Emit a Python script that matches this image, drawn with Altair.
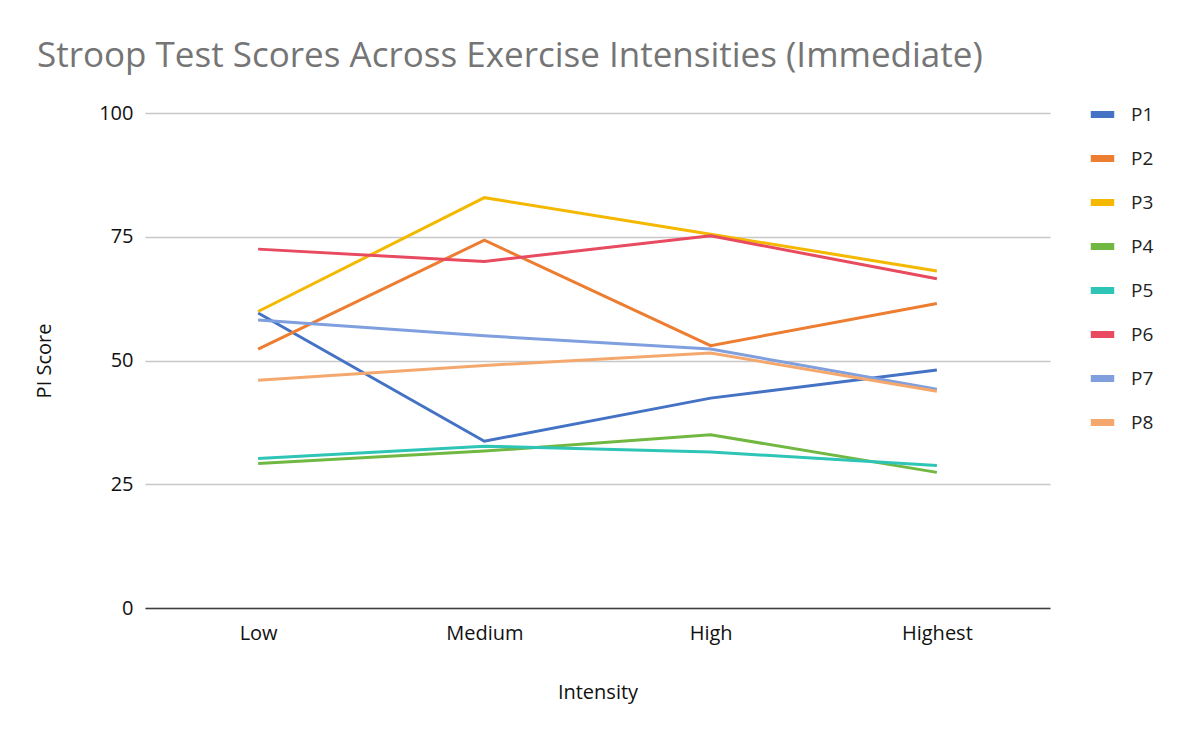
import altair as alt
import pandas as pd

intensities = ["Low", "Medium", "High", "Highest"]
participants = ["P1", "P2", "P3", "P4", "P5", "P6", "P7", "P8"]
p1 = [59.6, 33.7, 42.4, 48.1]
p2 = [52.3, 74.3, 53.0, 61.5]
p3 = [59.9, 82.9, 75.5, 68.1]
p4 = [29.2, 31.7, 35.0, 27.4]
p5 = [30.2, 32.7, 31.5, 28.8]
p6 = [72.5, 70.0, 75.2, 66.5]
p7 = [58.2, 55.0, 52.3, 44.2]
p8 = [46.0, 49.0, 51.5, 43.8]
colors = ["#4472C4", "#ED7D31", "#F4B800", "#71B843", "#2EC4B6", "#E84A5F", "#7F9FDE", "#F4A86E"]

series = [p1, p2, p3, p4, p5, p6, p7, p8]
rows = []
for name, vals in zip(participants, series):
    for lvl, v in zip(intensities, vals):
        rows.append({"Intensity": lvl, "Participant": name, "Score": v})
df = pd.DataFrame(rows)

FONT = "Open Sans"

chart = alt.Chart(df).mark_line(strokeWidth=3).encode(
    x=alt.X("Intensity:N", sort=intensities, scale=alt.Scale(type="point", padding=0.5),
            axis=alt.Axis(title="Intensity", labelAngle=0, ticks=False, grid=False,
                          domainColor="#404040", domainWidth=1.5,
                          labelPadding=15, titlePadding=39)),
    y=alt.Y("Score:Q", scale=alt.Scale(domain=[0, 100]),
            axis=alt.Axis(title="PI Score", values=[0, 25, 50, 75, 100], ticks=False, domain=False,
                          gridColor="#C8C8C8", gridWidth=1.5, labelPadding=12, titlePadding=44)),
    color=alt.Color("Participant:N", sort=participants,
                    scale=alt.Scale(domain=participants, range=colors),
                    legend=alt.Legend(title=None, orient="none", legendX=942, legendY=-14,
                                      symbolType="stroke", symbolStrokeWidth=7, symbolSize=550,
                                      labelFontSize=19, labelFont=FONT, labelColor="#222222",
                                      labelOffset=13, rowPadding=14)),
).properties(
    width=905, height=495,
    title=alt.TitleParams("Stroop Test Scores Across Exercise Intensities (Immediate)",
                          anchor="start", frame="group", dx=-108, offset=25, fontSize=35, font=FONT,
                          fontWeight="normal", color="#757575"),
    autosize=alt.AutoSizeParams(type="none"),
    padding={"left": 137, "top": 105, "right": 140, "bottom": 120},
).configure_axis(
    labelFont=FONT, titleFont=FONT, labelFontSize=20, titleFontSize=20,
    labelColor="#111111", titleColor="#111111", titleFontWeight="normal",
).configure_view(stroke=None)

chart.save("out.html", embed_options={"renderer": "svg", "actions": False})
